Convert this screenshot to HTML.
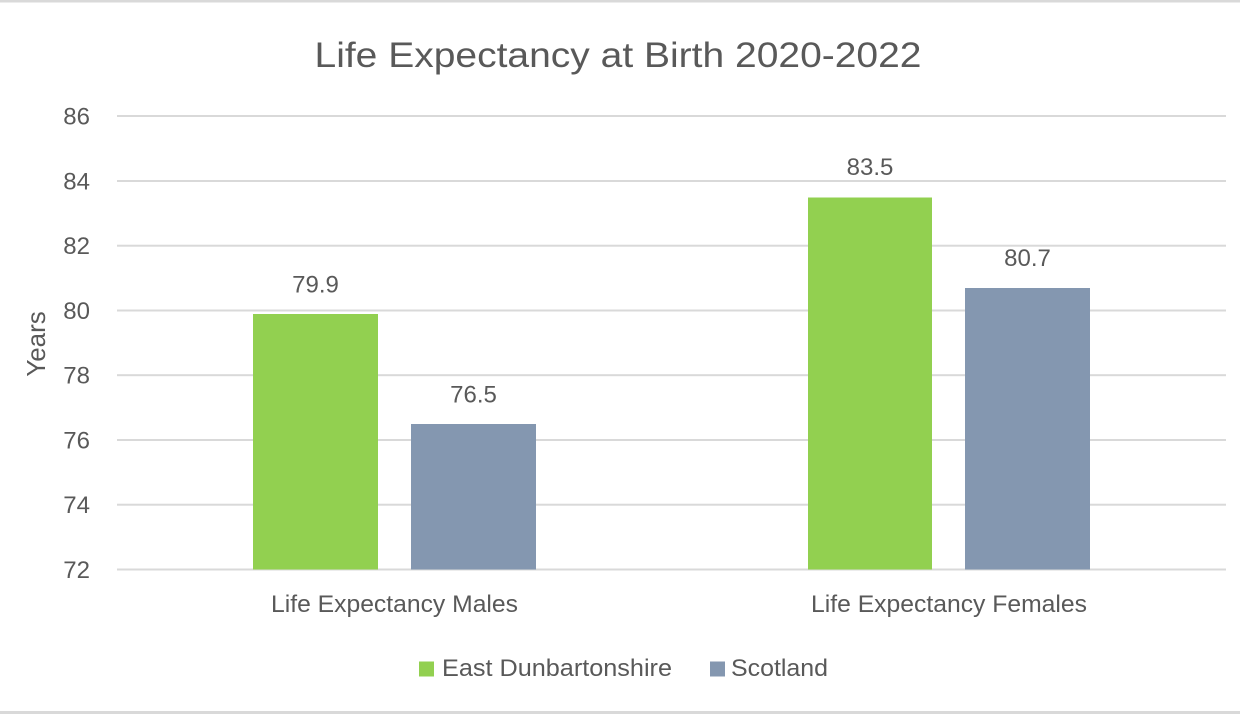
<!DOCTYPE html>
<html>
<head>
<meta charset="utf-8">
<style>
  html, body { margin:0; padding:0; background:#fff; }
  svg { display:block; }
  text { font-family: "Liberation Sans", sans-serif; fill:#595959; }
</style>
</head>
<body>
<svg width="1240" height="720" viewBox="0 0 1240 720" xmlns="http://www.w3.org/2000/svg">
  <rect x="0" y="0" width="1240" height="720" fill="#ffffff"/>
  <!-- chart border (top/bottom) -->
  <rect x="0" y="0" width="1240" height="2.5" fill="#d9d9d9"/>
  <rect x="0" y="711" width="1240" height="3" fill="#d9d9d9"/>

  <!-- title -->
  <text x="618" y="67" font-size="35" text-anchor="middle" textLength="607" lengthAdjust="spacingAndGlyphs">Life Expectancy at Birth 2020-2022</text>

  <!-- gridlines -->
  <g fill="#d9d9d9">
    <rect x="117" y="115" width="1109" height="2"/>
    <rect x="117" y="180" width="1109" height="2"/>
    <rect x="117" y="244.7" width="1109" height="2"/>
    <rect x="117" y="309.5" width="1109" height="2"/>
    <rect x="117" y="374.2" width="1109" height="2"/>
    <rect x="117" y="439" width="1109" height="2"/>
    <rect x="117" y="503.7" width="1109" height="2"/>
    <rect x="117" y="568.5" width="1109" height="2"/>
  </g>

  <!-- y tick labels -->
  <g font-size="24" text-anchor="end">
    <text x="90" y="124.5">86</text>
    <text x="90" y="189.3">84</text>
    <text x="90" y="254">82</text>
    <text x="90" y="318.8">80</text>
    <text x="90" y="383.5">78</text>
    <text x="90" y="448.3">76</text>
    <text x="90" y="513">74</text>
    <text x="90" y="577.8">72</text>
  </g>

  <!-- y axis title -->
  <text x="0" y="0" font-size="26" text-anchor="middle" transform="translate(45,344) rotate(-90)">Years</text>

  <!-- bars -->
  <rect x="253" y="314" width="125" height="255.5" fill="#92d050"/>
  <rect x="411" y="424" width="125" height="145.5" fill="#8497b0"/>
  <rect x="808" y="197.5" width="124" height="372" fill="#92d050"/>
  <rect x="965" y="288" width="125" height="281.5" fill="#8497b0"/>

  <!-- data labels -->
  <g font-size="24" text-anchor="middle">
    <text x="315.5" y="292.5">79.9</text>
    <text x="473.5" y="402.5">76.5</text>
    <text x="870" y="175">83.5</text>
    <text x="1027.5" y="266">80.7</text>
  </g>

  <!-- category labels -->
  <g font-size="24" text-anchor="middle">
    <text x="394.5" y="612" textLength="247" lengthAdjust="spacingAndGlyphs">Life Expectancy Males</text>
    <text x="949" y="612" textLength="276" lengthAdjust="spacingAndGlyphs">Life Expectancy Females</text>
  </g>

  <!-- legend -->
  <rect x="419" y="661.5" width="15" height="15" fill="#92d050"/>
  <text x="442" y="676" font-size="24" textLength="230" lengthAdjust="spacingAndGlyphs">East Dunbartonshire</text>
  <rect x="710" y="661.5" width="15" height="15" fill="#8497b0"/>
  <text x="731" y="676" font-size="24" textLength="97" lengthAdjust="spacingAndGlyphs">Scotland</text>
</svg>
</body>
</html>
